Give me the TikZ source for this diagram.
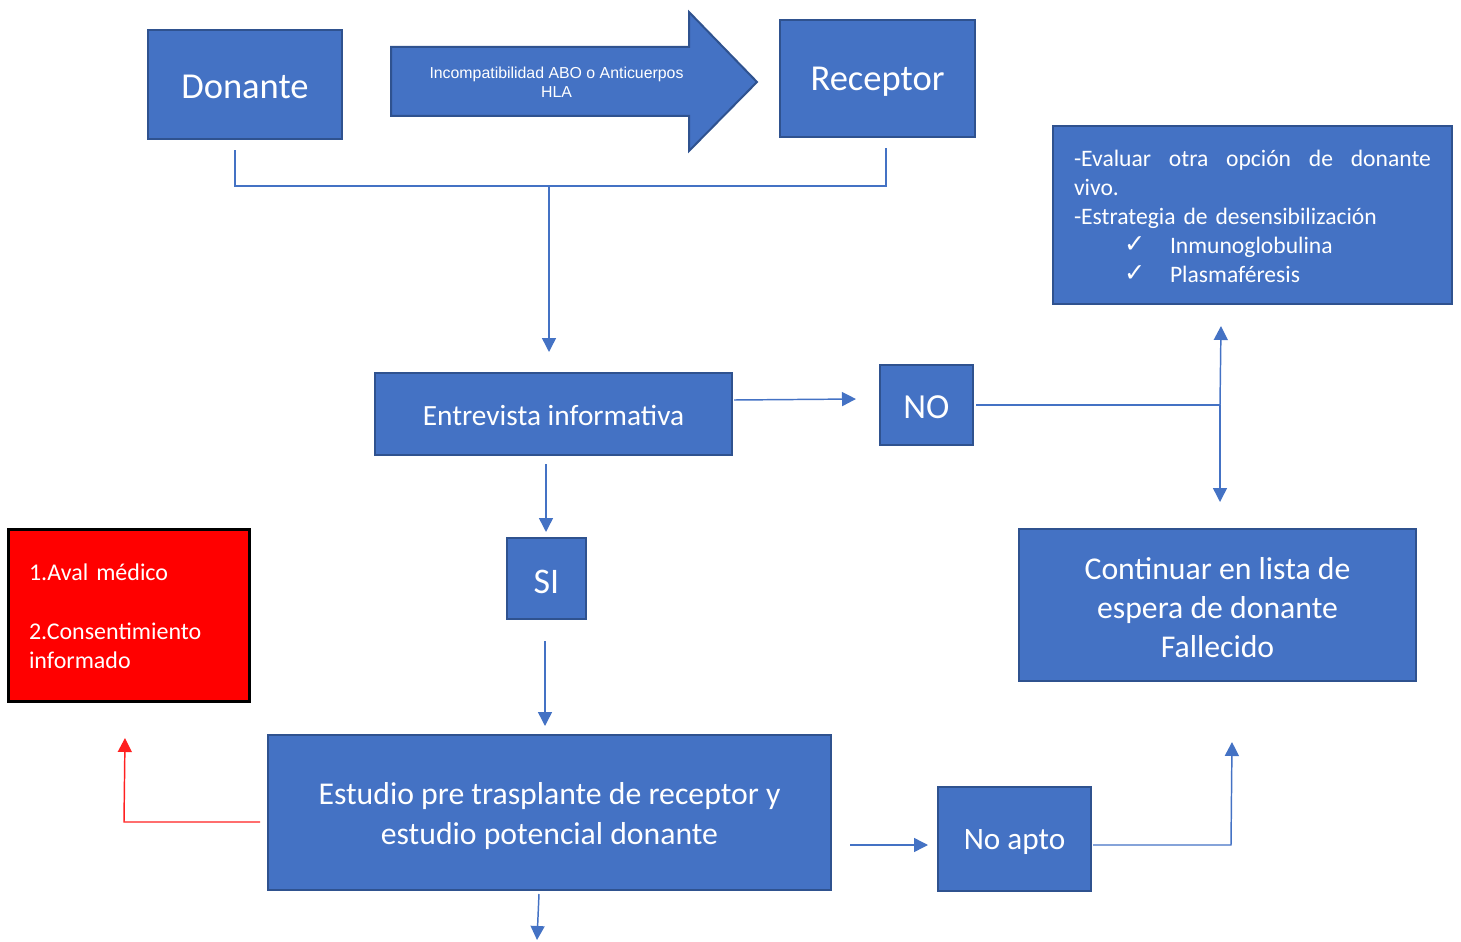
\documentclass[tikz,border=0pt]{standalone}
\usepackage{fontspec}
\setmainfont{Carlito}
\newfontfamily\arialf{Liberation Sans}
\newfontfamily\dejavu{DejaVu Sans}
\usetikzlibrary{arrows.meta}
\definecolor{bfill}{HTML}{4472C4}
\definecolor{bdraw}{HTML}{2F528F}
\definecolor{rline}{HTML}{FF2020}
\tikzset{
  box/.style={draw=bdraw, fill=bfill, line width=1.5pt, text=white, inner sep=0pt, align=center},
  conn/.style={draw=bfill, line width=1.1pt, -{Triangle[length=10.5pt,width=10.5pt]}},
  plainline/.style={draw=bfill, line width=1.1pt},
  rconn/.style={draw=rline, line width=1.1pt, -{Triangle[length=10.5pt,width=10.5pt]}},
  bigtxt/.style={font=\fontsize{27.4}{33}\selectfont},
  midtxt/.style={font=\fontsize{23.8}{29.5}\selectfont},
}
\newcommand{\chk}{\makebox[34.5pt][l]{\raisebox{1pt}{\dejavu\fontsize{19}{19}\selectfont ✓}}}
\newcommand{\dn}[2]{\raisebox{-#1}[\height][\depth]{#2}}
\begin{document}
\begin{tikzpicture}[x=0.75pt,y=-0.75pt]
\useasboundingbox (0,0) rectangle (1461,942);

% boxes
\node[box, bigtxt, text depth=0pt, minimum width=145.5pt, minimum height=81.75pt] (donante) at (245,84.5) {\dn{1.5pt}{Donante}};
\node[box, bigtxt, text depth=0pt, minimum width=146.25pt, minimum height=87.75pt] (receptor) at (877.5,78.5) {Receptor};

% big arrow shape
\draw[draw=bdraw, fill=bfill, line width=1.5pt, line join=miter]
  (391,47) -- (689,47) -- (689,12) -- (757,82) -- (689,151) -- (689,116) -- (391,116) -- cycle;
\node[text=white, align=center, font=\arialf\fontsize{11.9}{14.25}\selectfont] (incomp) at (556.5,82)
  {Incompatibilidad ABO o Anticuerpos\\HLA};

\node[box, font=\fontsize{22}{26}\selectfont, text depth=0pt, minimum width=267.75pt, minimum height=61.5pt] (entrevista) at (553.5,414) {\dn{0.8pt}{Entrevista informativa}};
\node[box, font=\fontsize{26.4}{31}\selectfont, text depth=0pt, minimum width=69.75pt, minimum height=60pt] (no) at (926.5,405) {\dn{1.5pt}{NO}};

\node[box, font=\fontsize{17.7}{21.75}\selectfont, align=left, text width=267.75pt, inner xsep=15.75pt,
      text height=14.2pt, minimum width=299.25pt, minimum height=133.5pt] (evaluar) at (1252.5,215)
  {\hbox to 267.75pt{-Evaluar\hfill otra\hfill opción\hfill de\hfill donante}\\
   vivo.\\
   -Estrategia de desensibilización\\
   \hspace*{37.5pt}\chk Inmunoglobulina\\
   \hspace*{37.5pt}\chk Plasmaféresis};

\node[box, midtxt, text height=79.5pt, minimum width=297.75pt, minimum height=114pt] (continuar) at (1217.5,605)
  {Continuar en lista de\\espera de donante\\Fallecido};

\node[box, font=\fontsize{27}{32}\selectfont, text depth=0pt, minimum width=59.25pt, minimum height=60.75pt] (si) at (546.5,578.5) {\dn{2.2pt}{SI}};

\node[box, midtxt, text depth=0pt, text height=47.5pt, minimum width=422.25pt, minimum height=116.25pt] (estudio) at (549.5,812.5)
  {Estudio pre trasplante de receptor y\\estudio potencial donante};

\node[draw=black, fill=red, line width=2.25pt, text=white, inner ysep=0pt, inner xsep=15.75pt,
      align=left, text width=149.25pt, minimum width=180.75pt, minimum height=129pt, text height=14.5pt,
      font=\fontsize{18}{22}\selectfont] (aval) at (128.5,615)
  {1.Aval médico\\ \strut\\ 2.Consentimiento\\ informado};

\node[box, font=\fontsize{23.4}{28}\selectfont, text depth=0pt, minimum width=114.75pt, minimum height=78pt] (noapto) at (1014.5,839) {No apto};

% connector points
\coordinate (b1) at (235,150);
\coordinate (b2) at (235,186);
\coordinate (b3) at (886,186);
\coordinate (b4) at (886,148);
\coordinate (bm) at (549,186);
\coordinate (eIn) at (549,352);
\coordinate (eOut) at (734,400);
\coordinate (noIn) at (856,399);
\coordinate (noOut) at (976,405);
\coordinate (j1) at (1220,405);
\coordinate (evIn) at (1221,326);
\coordinate (coIn) at (1220,502);
\coordinate (eDown) at (546,464);
\coordinate (siIn) at (546,532);
\coordinate (siOut) at (545,641);
\coordinate (esIn) at (545,726);
\coordinate (esOut) at (539,894);
\coordinate (esEnd) at (537,940);
\coordinate (r1) at (260,822);
\coordinate (r2) at (124,822);
\coordinate (avIn) at (125,738);
\coordinate (esR) at (850,845);
\coordinate (naIn) at (928,845);
\coordinate (naOut) at (1093,845);
\coordinate (j2) at (1231,845);
\coordinate (coIn2) at (1232,742);

% connectors
\draw[plainline] (b1) -- (b2) -- (b3) -- (b4);
\draw[conn] (bm) -- (eIn);
\draw[conn] (eOut) -- (noIn);
\draw[plainline] (noOut) -- (j1);
\draw[conn] (j1) -- (evIn);
\draw[conn] (j1) -- (coIn);
\draw[conn] (eDown) -- (siIn);
\draw[conn] (siOut) -- (esIn);
\draw[conn] (esOut) -- (esEnd);
\draw[rconn] (r1) -- (r2) -- (avIn);
\draw[conn] (esR) -- (naIn);
\draw[conn] (naOut) -- (j2) -- (coIn2);
\end{tikzpicture}
\end{document}
